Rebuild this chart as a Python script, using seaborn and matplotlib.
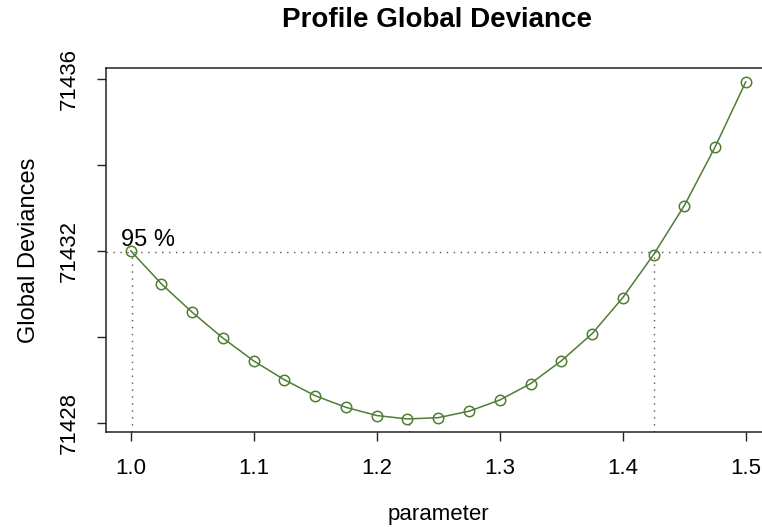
import numpy as np
import pandas as pd
import matplotlib
matplotlib.use("Agg")
import matplotlib.pyplot as plt
import seaborn as sns

# ── Data ─────────────────────────────────────────────────────────────
param = [1.000, 1.025, 1.050, 1.075, 1.100, 1.125, 1.150, 1.175, 1.200, 1.225, 1.250,
         1.275, 1.300, 1.325, 1.350, 1.375, 1.400, 1.425, 1.450, 1.475, 1.500]
deviance = [71432.00, 71431.23, 71430.57, 71429.97, 71429.44, 71429.00, 71428.63,
            71428.36, 71428.17, 71428.09, 71428.12, 71428.27, 71428.53, 71428.91,
            71429.44, 71430.07, 71430.91, 71431.91, 71433.05, 71434.41, 71435.93]
ci_level = 71431.97
ci_bounds = [1.001, 1.4255]
param_min = 1.226
y_ticks = [71428, 71430, 71432, 71434, 71436]
y_labels = ["71428", "", "71432", "", "71436"]
x_ticks = [1.0, 1.1, 1.2, 1.3, 1.4, 1.5]
x_labels = ["1.0", "1.1", "1.2", "1.3", "1.4", "1.5"]

df = pd.DataFrame({"parameter": param, "deviance": deviance})

sns.set_style("ticks")
plt.rcParams["font.family"] = ["Liberation Sans", "DejaVu Sans"]
plt.rcParams["text.color"] = "black"
plt.rcParams["axes.labelcolor"] = "black"
plt.rcParams["xtick.color"] = "black"
plt.rcParams["ytick.color"] = "black"

GREEN = "#4f7d33"
DOT = (0, (1, 4))

fig = plt.figure(figsize=(7.62, 5.27), dpi=100)
ax = fig.add_axes([0.1391, 0.1797, 0.872, 0.6907])

sns.lineplot(data=df, x="parameter", y="deviance", ax=ax, color=GREEN, lw=1.1,
             marker="o", markersize=7.5, markerfacecolor="none",
             markeredgecolor=GREEN, markeredgewidth=1.1)

# ── CI guide lines ───────────────────────────────────────────────────
ax.axhline(ci_level, color="#555555", lw=1, linestyle=DOT, zorder=1)
ylo = 71427.78
for b in ci_bounds:
    ax.plot([b, b], [ylo, ci_level], color="#555555", lw=1, linestyle=DOT, zorder=1)
ax.plot([param_min, param_min], [ylo, min(deviance)], color="#555555", lw=1,
        linestyle=DOT, zorder=1)
ax.text(0.9925, ci_level + 0.02, "95 %", fontsize=17, ha="left", va="bottom")

ax.set_xlim(0.98, 1.52)
ax.set_ylim(71427.78, 71436.24)
ax.set_xticks(x_ticks)
ax.set_xticklabels(x_labels)
ax.set_yticks(y_ticks)
ax.set_yticklabels(y_labels, rotation=90, va="center")
ax.tick_params(axis="both", length=6.5, width=1, labelsize=16, pad=12, color="#222222")

for s in ax.spines.values():
    s.set_visible(True)
    s.set_linewidth(1.1)
    s.set_color("#222222")

ax.set_xlabel("parameter", fontsize=16, labelpad=18)
ax.set_ylabel("Global Deviances", fontsize=17, labelpad=14)
fig.text(0.574, 0.962, "Profile Global Deviance", fontsize=20, fontweight="bold",
         ha="center", va="center")

fig.savefig("out.png", dpi=100)
